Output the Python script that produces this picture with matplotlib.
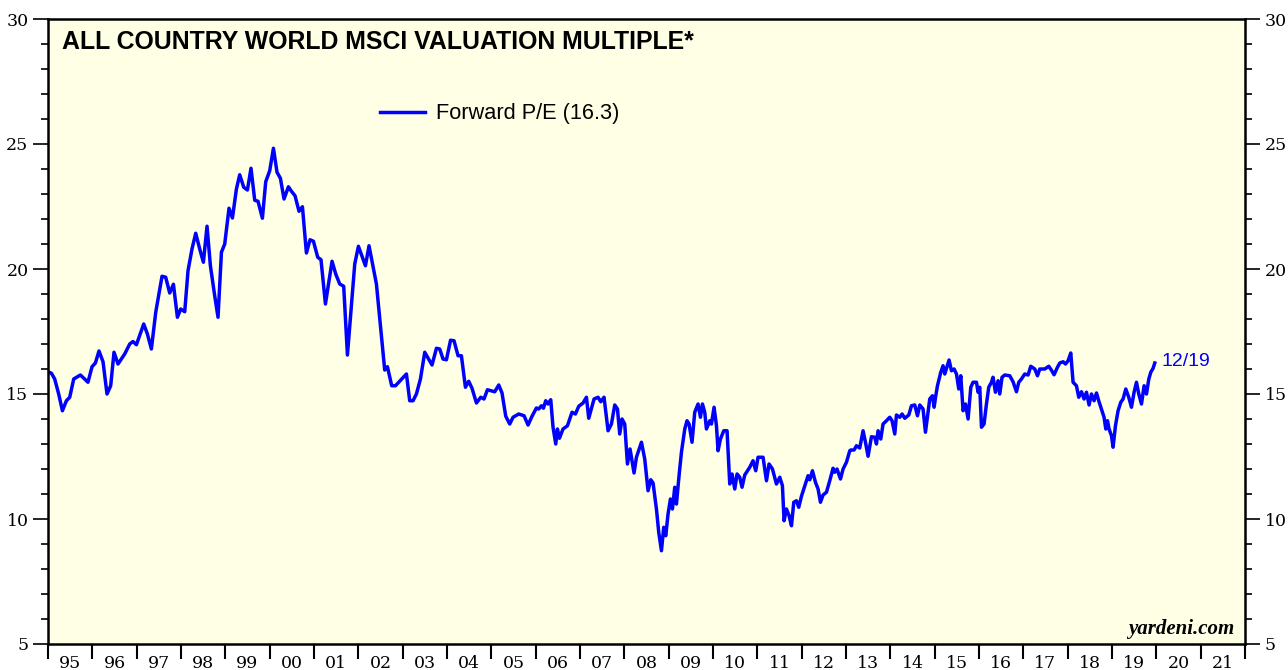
import matplotlib.pyplot as plt
from matplotlib.ticker import MultipleLocator, FixedLocator, NullFormatter

# MSCI All Country World forward P/E, weekly-ish readings (decimal year, P/E)
years = [
    1995.000, 1995.077, 1995.151, 1995.241, 1995.325, 1995.415, 1995.490, 1995.580, 1995.731, 1995.902,
    1995.993, 1996.069, 1996.150, 1996.241, 1996.331, 1996.414, 1996.489, 1996.579, 1996.730, 1996.843,
    1996.917, 1996.994, 1997.159, 1997.242, 1997.332, 1997.430, 1997.572, 1997.655, 1997.745, 1997.829,
    1997.919, 1997.993, 1998.084, 1998.158, 1998.248, 1998.332, 1998.422, 1998.505, 1998.587, 1998.663,
    1998.760, 1998.835, 1998.912, 1998.986, 1999.083, 1999.160, 1999.250, 1999.324, 1999.415, 1999.498,
    1999.579, 1999.663, 1999.737, 1999.836, 1999.911, 2000.001, 2000.085, 2000.166, 2000.242, 2000.324,
    2000.423, 2000.491, 2000.572, 2000.662, 2000.739, 2000.829, 2000.910, 2000.987, 2001.084, 2001.158,
    2001.258, 2001.407, 2001.490, 2001.580, 2001.670, 2001.754, 2001.919, 2002.002, 2002.160, 2002.241,
    2002.408, 2002.505, 2002.595, 2002.656, 2002.753, 2002.837, 2003.085, 2003.159, 2003.234, 2003.310,
    2003.401, 2003.498, 2003.662, 2003.762, 2003.836, 2003.910, 2003.987, 2004.080, 2004.159, 2004.249,
    2004.325, 2004.416, 2004.490, 2004.564, 2004.664, 2004.761, 2004.835, 2004.912, 2005.077, 2005.167,
    2005.241, 2005.325, 2005.415, 2005.490, 2005.618, 2005.738, 2005.828, 2005.918, 2006.017, 2006.069,
    2006.130, 2006.175, 2006.227, 2006.279, 2006.340, 2006.392, 2006.453, 2006.491, 2006.536, 2006.617,
    2006.717, 2006.820, 2006.897, 2006.972, 2007.069, 2007.145, 2007.197, 2007.258, 2007.317, 2007.407,
    2007.468, 2007.542, 2007.633, 2007.709, 2007.784, 2007.845, 2007.896, 2007.948, 2008.009, 2008.070,
    2008.129, 2008.219, 2008.273, 2008.386, 2008.460, 2008.535, 2008.596, 2008.648, 2008.724, 2008.776,
    2008.837, 2008.889, 2008.934, 2008.986, 2009.040, 2009.085, 2009.137, 2009.175, 2009.234, 2009.288,
    2009.363, 2009.414, 2009.460, 2009.527, 2009.588, 2009.663, 2009.717, 2009.762, 2009.814, 2009.852,
    2009.927, 2009.965, 2010.024, 2010.078, 2010.114, 2010.168, 2010.243, 2010.317, 2010.378, 2010.430,
    2010.491, 2010.543, 2010.603, 2010.655, 2010.716, 2010.829, 2010.903, 2010.964, 2011.016, 2011.129,
    2011.206, 2011.264, 2011.341, 2011.431, 2011.506, 2011.566, 2011.603, 2011.657, 2011.716, 2011.770,
    2011.822, 2011.882, 2011.934, 2011.995, 2012.070, 2012.144, 2012.183, 2012.243, 2012.311, 2012.370,
    2012.424, 2012.482, 2012.559, 2012.633, 2012.708, 2012.746, 2012.798, 2012.875, 2012.934, 2013.010,
    2013.085, 2013.106, 2013.182, 2013.236, 2013.310, 2013.385, 2013.439, 2013.498, 2013.574, 2013.649,
    2013.687, 2013.723, 2013.784, 2013.836, 2013.913, 2013.987, 2014.039, 2014.100, 2014.138, 2014.213,
    2014.265, 2014.326, 2014.416, 2014.477, 2014.551, 2014.612, 2014.664, 2014.738, 2014.792, 2014.889,
    2014.950, 2014.987, 2015.025, 2015.063, 2015.138, 2015.189, 2015.228, 2015.289, 2015.325, 2015.379,
    2015.438, 2015.492, 2015.544, 2015.589, 2015.641, 2015.695, 2015.754, 2015.815, 2015.866, 2015.943,
    2015.979, 2016.017, 2016.056, 2016.114, 2016.168, 2016.220, 2016.281, 2016.317, 2016.371, 2016.430,
    2016.468, 2016.520, 2016.581, 2016.694, 2016.768, 2016.845, 2016.897, 2016.958, 2017.032, 2017.107,
    2017.168, 2017.258, 2017.319, 2017.371, 2017.484, 2017.574, 2017.635, 2017.693, 2017.770, 2017.822,
    2017.897, 2017.951, 2018.009, 2018.070, 2018.122, 2018.198, 2018.250, 2018.311, 2018.370, 2018.424,
    2018.483, 2018.537, 2018.596, 2018.650, 2018.708, 2018.762, 2018.821, 2018.860, 2018.898, 2018.934,
    2018.988, 2019.024, 2019.078, 2019.137, 2019.198, 2019.250, 2019.311, 2019.378, 2019.439, 2019.498,
    2019.552, 2019.604, 2019.665, 2019.724, 2019.778, 2019.830, 2019.875, 2019.927, 2019.965,
]
pe = [
    15.89, 15.83, 15.60, 15.00, 14.33, 14.73, 14.87, 15.60, 15.76, 15.47,
    16.09, 16.24, 16.72, 16.29, 15.00, 15.33, 16.67, 16.20, 16.60, 17.00,
    17.10, 16.97, 17.80, 17.40, 16.80, 18.27, 19.71, 19.67, 19.04, 19.39,
    18.07, 18.40, 18.29, 19.93, 20.80, 21.43, 20.80, 20.27, 21.71, 20.13,
    18.93, 18.07, 20.67, 21.00, 22.43, 22.04, 23.20, 23.77, 23.27, 23.16,
    24.03, 22.75, 22.71, 22.03, 23.49, 23.93, 24.83, 23.87, 23.63, 22.80,
    23.29, 23.11, 22.93, 22.31, 22.49, 20.64, 21.17, 21.11, 20.47, 20.37,
    18.60, 20.31, 19.80, 19.40, 19.31, 16.56, 20.20, 20.91, 20.13, 20.93,
    19.40, 17.60, 15.96, 16.09, 15.33, 15.33, 15.80, 14.73, 14.73, 15.00,
    15.60, 16.67, 16.16, 16.83, 16.80, 16.40, 16.37, 17.15, 17.13, 16.53,
    16.53, 15.27, 15.51, 15.23, 14.64, 14.87, 14.80, 15.17, 15.09, 15.36,
    15.04, 14.11, 13.80, 14.07, 14.20, 14.13, 13.76, 14.11, 14.44, 14.40,
    14.53, 14.43, 14.73, 14.60, 14.77, 13.67, 13.00, 13.60, 13.23, 13.60,
    13.73, 14.27, 14.20, 14.51, 14.64, 14.87, 14.03, 14.43, 14.80, 14.87,
    14.69, 14.87, 13.53, 13.80, 14.56, 14.40, 13.40, 14.00, 13.80, 12.20,
    12.80, 11.84, 12.47, 13.07, 12.40, 11.13, 11.57, 11.44, 10.40, 9.47,
    8.73, 9.67, 9.33, 10.20, 10.80, 10.40, 11.27, 10.60, 11.73, 12.67,
    13.60, 13.93, 13.80, 13.07, 14.27, 14.60, 14.07, 14.60, 14.27, 13.60,
    13.93, 13.80, 14.47, 13.73, 12.73, 13.20, 13.53, 13.53, 11.40, 11.80,
    11.20, 11.80, 11.67, 11.27, 11.76, 12.07, 12.33, 11.93, 12.47, 12.47,
    11.53, 12.20, 12.00, 11.40, 11.67, 11.33, 9.93, 10.40, 10.13, 9.73,
    10.67, 10.73, 10.47, 10.91, 11.33, 11.73, 11.57, 11.93, 11.47, 11.20,
    10.67, 10.96, 11.07, 11.53, 12.03, 11.87, 12.00, 11.60, 12.00, 12.27,
    12.73, 12.76, 12.76, 12.93, 12.84, 13.53, 13.07, 12.51, 13.29, 13.27,
    13.00, 13.53, 13.20, 13.80, 13.93, 14.07, 13.93, 13.40, 14.16, 14.07,
    14.20, 14.03, 14.16, 14.53, 14.56, 14.13, 14.56, 14.40, 13.47, 14.80,
    14.93, 14.47, 14.93, 15.33, 15.87, 16.13, 15.80, 16.16, 16.36, 15.93,
    16.00, 15.80, 15.20, 15.73, 14.33, 14.60, 14.00, 15.27, 15.47, 15.47,
    15.07, 15.27, 13.67, 13.80, 14.60, 15.27, 15.47, 15.67, 15.07, 15.53,
    15.00, 15.67, 15.76, 15.73, 15.49, 15.09, 15.47, 15.60, 15.80, 15.76,
    16.11, 16.00, 15.73, 16.00, 16.00, 16.11, 15.95, 15.77, 16.07, 16.24,
    16.29, 16.20, 16.33, 16.64, 15.47, 15.33, 14.87, 15.09, 14.80, 15.07,
    14.56, 15.00, 14.73, 15.04, 14.69, 14.40, 14.07, 13.60, 13.93, 13.60,
    13.33, 12.87, 13.73, 14.33, 14.67, 14.80, 15.20, 14.87, 14.47, 15.07,
    15.47, 15.00, 14.60, 15.33, 15.00, 15.60, 15.87, 16.03, 16.24,
]

year_labels = ['95', '96', '97', '98', '99', '00', '01', '02', '03', '04', '05', '06', '07',
               '08', '09', '10', '11', '12', '13', '14', '15', '16', '17', '18', '19', '20', '21']

fig = plt.figure(figsize=(12.88, 6.70), dpi=100)
ax = fig.add_axes([48 / 1288, 26 / 670, 1197 / 1288, 625 / 670])
ax.set_facecolor('#FFFFE5')

ax.plot(years, pe, color='#0000FF', linewidth=2.5, label='Forward P/E (16.3)')

ax.set_xlim(1995, 2022)
ax.set_ylim(5, 30)

# y axis: majors every 5, minors every 1, both sides
ax.yaxis.set_major_locator(MultipleLocator(5))
ax.yaxis.set_minor_locator(MultipleLocator(1))
ax.tick_params(axis='y', which='both', direction='out', left=True, right=True,
               labelleft=True, labelright=True, width=1.2, color='black')
ax.tick_params(axis='y', which='major', length=11, pad=3, labelsize=12.5)
ax.tick_params(axis='y', which='minor', length=5)

# x axis: ticks at year boundaries, labels mid-year
ax.xaxis.set_major_locator(FixedLocator(range(1995, 2023)))
ax.xaxis.set_major_formatter(NullFormatter())
ax.xaxis.set_minor_locator(FixedLocator([1995.5 + i for i in range(len(year_labels))]))
ax.set_xticklabels(year_labels, minor=True)
ax.tick_params(axis='x', which='major', direction='out', length=11, width=1.5, top=False)
ax.tick_params(axis='x', which='minor', length=0, pad=8, labelsize=12.5, top=False)

for lab in ax.get_xticklabels(minor=True) + ax.yaxis.get_ticklabels(which='both'):
    lab.set_family('DejaVu Serif')

for s in ax.spines.values():
    s.set_linewidth(1.8)

ax.text(0.0117, 0.983, 'ALL COUNTRY WORLD MSCI VALUATION MULTIPLE*', transform=ax.transAxes,
        ha='left', va='top', fontsize=17.9, fontweight='bold', family='Liberation Sans')

leg = ax.legend(loc='center left', bbox_to_anchor=(0.277, 0.848), frameon=False,
                borderaxespad=0, borderpad=0, handlelength=2.1, handletextpad=0.5,
                prop={'family': 'Liberation Sans', 'size': 15.7})

ax.text(2020.12, 16.3, '12/19', color='#0000FF', fontsize=14, family='Liberation Sans',
        ha='left', va='center')

ax.text(0.991, 0.008, 'yardeni.com', transform=ax.transAxes, ha='right', va='bottom',
        fontsize=15, fontweight='bold', style='italic', family='Liberation Serif')

fig.savefig('out.png', dpi=100)
